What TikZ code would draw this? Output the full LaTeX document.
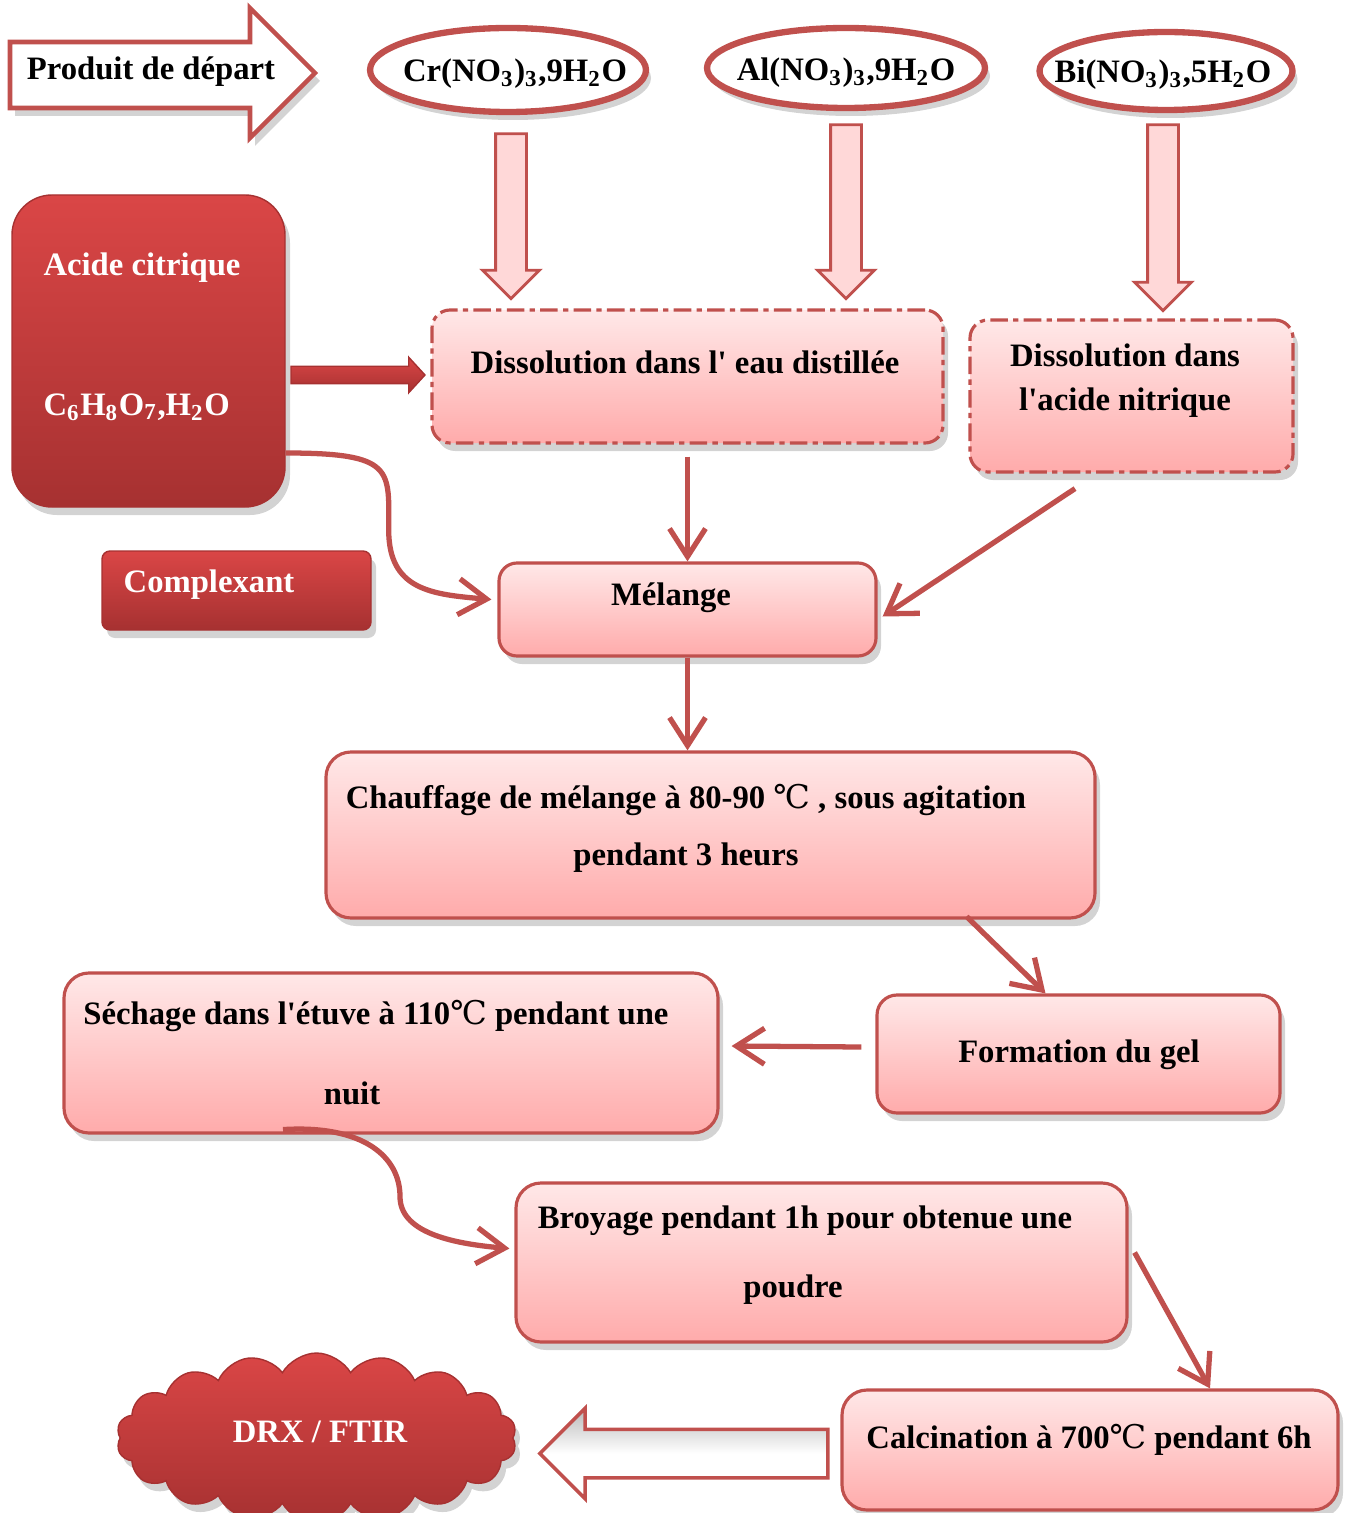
\documentclass[tikz,border=0pt]{standalone}
\usepackage{fontspec}
\setmainfont{Liberation Serif}[Ligatures=TeXOff]
\newfontfamily\degfont{DejaVu Serif}
\usepackage{xcolor}
\usepackage{tikz}
\usetikzlibrary{arrows.meta,shapes.geometric,shapes.arrows,shapes.symbols,shadows}

\definecolor{accent}{HTML}{C0504D}
\definecolor{paletop}{HTML}{FFE8E8}
\definecolor{palebot}{HTML}{FFABAB}
\definecolor{pinkfill}{HTML}{FFD8D8}
\definecolor{redtop}{HTML}{DA4646}
\definecolor{redbot}{HTML}{A63131}
\newcommand{\degC}{{\degfont\mdseries ℃}}

\begin{document}
\begin{tikzpicture}[
  arr/.style={draw=accent,line width=1.5pt,-{Straight Barb[length=2.8mm,width=3.6mm]}},
  txt/.style={font=\fontsize{9.3}{11}\selectfont\bfseries,align=center,inner sep=0pt},
  wtxt/.style={txt,text=white},
  shad/.style={drop shadow={shadow xshift=0.5mm,shadow yshift=-0.8mm,opacity=0.35}},
  pale/.style={shad,rounded corners=0.18cm,draw=accent,line width=0.9pt,top color=paletop,bottom color=palebot},
  redbox/.style={shad,draw=redbot,top color=redtop,bottom color=redbot},
  chem/.style={shad,draw=accent,line width=1.8pt,fill=white},
  dashbox/.style={pale,dash pattern=on 5pt off 1.5pt on 1.5pt off 1.5pt},
  downarr/.style={single arrow,rotate=-90,draw=accent,line width=0.8pt,fill=pinkfill,
    inner xsep=0pt,inner ysep=0.14cm,single arrow head extend=0.13cm,single arrow tip angle=90}
]
  \useasboundingbox (0,0) rectangle (13.44,-15.13);

  % Starting products
  \draw[shad,draw=accent,line width=1.3pt,fill=white] (0.10,-0.42)--(2.50,-0.42)--(2.50,-0.08)
    --(3.15,-0.73)--(2.50,-1.38)--(2.50,-1.08)--(0.10,-1.08)--cycle;
  \node[txt] (start) at (1.51,-0.72) {Produit de départ};
  \draw[chem] (5.08,-0.70) ellipse[x radius=1.38,y radius=0.42];
  \node[txt] (cr) at (5.15,-0.74) {Cr(NO\textsubscript{3})\textsubscript{3},9H\textsubscript{2}O};
  \draw[chem] (8.46,-0.68) ellipse[x radius=1.39,y radius=0.40];
  \node[txt] (al) at (8.46,-0.73) {Al(NO\textsubscript{3})\textsubscript{3},9H\textsubscript{2}O};
  \draw[chem] (11.66,-0.71) ellipse[x radius=1.265,y radius=0.39];
  \node[txt] (bi) at (11.63,-0.75) {Bi(NO\textsubscript{3})\textsubscript{3},5H\textsubscript{2}O};
  \node[downarr,minimum height=1.65cm] (dCr) at (5.11,-2.085) {};
  \node[downarr,minimum height=1.74cm] (dAl) at (8.46,-2.04) {};
  \node[downarr,minimum height=1.86cm] (dBi) at (11.63,-2.10) {};

  % Citric acid
  \node[redbox,rounded corners=0.4cm,minimum width=2.73cm,minimum height=3.12cm] (acide) at (1.485,-3.51) {};
  \node[wtxt,align=left] (acideT) at (1.42,-3.37) {Acide citrique\\[28.8pt]C\textsubscript{6}H\textsubscript{8}O\textsubscript{7},H\textsubscript{2}O};
  \node[redbox,rounded corners=0.08cm,minimum width=2.69cm,minimum height=0.79cm] (comp) at (2.365,-5.905) {};
  \node[wtxt] (compT) at (2.09,-5.85) {Complexant};
  \node[single arrow,draw=redbot,top color=redtop,bottom color=redbot,minimum height=1.34cm,inner xsep=0pt,inner ysep=0.08cm,
    single arrow head extend=0.09cm,single arrow tip angle=95] (aAc) at (3.54,-3.75) {};

  % Dissolutions
  \node[dashbox,minimum width=5.11cm,minimum height=1.33cm] (dis1) at (6.875,-3.765) {};
  \node[txt] (dis1T) at (6.85,-3.62) {Dissolution dans l' eau distillée};
  \node[dashbox,minimum width=3.23cm,minimum height=1.52cm] (dis2) at (11.315,-3.96) {};
  \node[txt] (dis2T) at (11.25,-3.81) {Dissolution dans\\[1.5pt]l'acide nitrique};

  % Process steps
  \node[pale,minimum width=3.77cm,minimum height=0.93cm] (mel) at (6.875,-6.095) {};
  \node[txt] (melT) at (6.71,-5.98) {Mélange};
  \node[pale,rounded corners=0.25cm,minimum width=7.69cm,minimum height=1.66cm] (chauf) at (7.105,-8.35) {};
  \node[txt] (chaufT) at (6.86,-8.285) {Chauffage de mélange à 80-90 \degC\ , sous agitation\\[5.2pt]pendant 3 heurs};
  \node[pale,rounded corners=0.2cm,minimum width=4.03cm,minimum height=1.18cm] (form) at (10.785,-10.54) {};
  \node[txt] (formT) at (10.79,-10.55) {Formation du gel};
  \node[pale,rounded corners=0.25cm,minimum width=6.54cm,minimum height=1.60cm] (sech) at (3.91,-10.53) {};
  \node[txt] (sechT) at (3.76,-10.525) {Séchage dans l'étuve à 110\degC\ pendant une\\[12pt]nuit\hspace*{0.48cm}};
  \node[pale,rounded corners=0.25cm,minimum width=6.11cm,minimum height=1.59cm] (broy) at (8.215,-12.625) {};
  \node[txt] (broyT) at (8.05,-12.555) {Broyage pendant 1h pour obtenue une\\[8.6pt]poudre\hspace*{0.24cm}};
  \node[pale,rounded corners=0.25cm,minimum width=4.96cm,minimum height=1.20cm] (calc) at (10.90,-14.50) {};
  \node[txt] (calcT) at (10.89,-14.40) {Calcination à 700\degC\ pendant 6h};

  % Characterisation
  \node[single arrow,rotate=180,draw=accent,line width=1pt,top color=gray!55,bottom color=white,middle color=white,
    minimum height=2.88cm,inner xsep=0pt,inner ysep=0.225cm,single arrow head extend=0.21cm,single arrow tip angle=90] (aRes) at (6.96,-14.535) {};
  \node[cloud,cloud puffs=18,cloud puff arc=120,cloud ignores aspect,redbox,minimum width=4.0cm,minimum height=1.70cm] (drx) at (3.165,-14.38) {};
  \node[wtxt] (drxT) at (3.20,-14.32) {DRX / FTIR};

  % Connectors
  \draw[arr] ([yshift=-1.2mm]dis1.south) -- (mel.north);
  \draw[arr] ([xshift=-0.565cm,yshift=-1.5mm]dis2.south) -- ([xshift=0.5mm,yshift=-0.7mm]mel.east);
  \draw[arr] ([yshift=-1.02cm]acide.east) .. controls +(1.1,0) and +(0,0.6) .. ++(1.03,-0.77)
    .. controls +(0,-0.6) and +(-0.6,0.05) .. ([xshift=-0.6mm,yshift=0.1cm]mel.west);
  \draw[arr] (mel.south) -- (mel.south |- chauf.north);
  \draw[arr] ([xshift=-1.3cm,yshift=0.03cm]chauf.south east) -- ([xshift=-0.33cm]form.north);
  \draw[arr] ([xshift=-1.4mm,yshift=0.07cm]form.west) -- ([xshift=1.2mm,yshift=0.07cm]sech.east);
  \draw[arr] ([xshift=-1.08cm,yshift=0.05cm]sech.south) .. controls +(0.8,0.05) and +(0,0.4) .. ++(1.17,-0.67)
    .. controls +(0,-0.35) and +(-0.6,0.05) .. ([xshift=-0.5mm,yshift=0.14cm]broy.west);
  \draw[arr] ([xshift=0.6mm,yshift=0.1cm]broy.east) -- ([xshift=1.2cm]calc.north);
\end{tikzpicture}
\end{document}
